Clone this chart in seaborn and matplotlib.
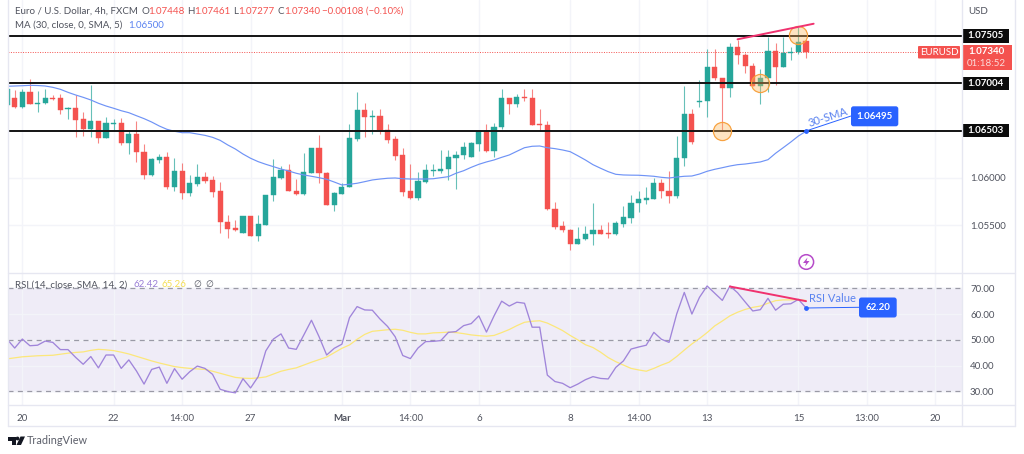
import matplotlib
matplotlib.use("Agg")
import matplotlib.pyplot as plt
from matplotlib.patches import FancyBboxPatch, Rectangle, Polygon, Circle
import numpy as np
import pandas as pd
import seaborn as sns

# ---------- data ----------
opens = [1.06774,1.06848,1.06752,1.06911,1.06784,1.06795,1.06851,1.06848,1.06728,1.06742,1.06625,1.06519,1.06607,1.06424,1.06572,1.06583,1.06371,1.06463,1.06279,1.06032,1.06191,1.06222,1.05904,1.06077,1.05844,1.05939,1.06010,1.05975,1.05859,1.05533,1.05467,1.05420,1.05594,1.05388,1.05498,1.05820,1.05999,1.06085,1.05865,1.05833,1.06053,1.06315,1.06053,1.05714,1.05830,1.05901,1.06416,1.06717,1.06650,1.06657,1.06509,1.06410,1.06240,1.05859,1.05788,1.05961,1.06077,1.06077,1.06092,1.06215,1.06240,1.06222,1.06360,1.06491,1.06286,1.06540,1.06851,1.06787,1.06858,1.06851,1.06572,1.06562,1.05671,1.05494,1.05449,1.05300,1.05350,1.05403,1.05449,1.05414,1.05403,1.05512,1.05579,1.05732,1.05770,1.05780,1.05944,1.05867,1.05809,1.06209,1.06678,1.06802,1.06816,1.07173,1.07063,1.06957,1.07392,1.07307,1.07187,1.06980,1.07060,1.07349,1.07173,1.07325,1.07332,1.07448]
highs = [1.06943,1.06933,1.06940,1.07049,1.06922,1.06943,1.06880,1.06890,1.06752,1.06880,1.06699,1.06986,1.06607,1.06646,1.06625,1.06636,1.06509,1.06604,1.06360,1.06215,1.06254,1.06275,1.06215,1.06162,1.06032,1.06148,1.06063,1.06021,1.05957,1.05608,1.05555,1.05594,1.05594,1.05611,1.05823,1.06198,1.06127,1.06148,1.05986,1.06262,1.06315,1.06456,1.06067,1.05848,1.05950,1.06572,1.06911,1.06792,1.06721,1.06728,1.06572,1.06445,1.06315,1.06148,1.06063,1.06145,1.06145,1.06297,1.06297,1.06286,1.06385,1.06385,1.06491,1.06572,1.06580,1.06943,1.06851,1.06887,1.06940,1.06940,1.06728,1.06607,1.05742,1.05544,1.05456,1.05484,1.05491,1.05738,1.05502,1.05530,1.05547,1.05703,1.05816,1.05865,1.05908,1.05997,1.05986,1.06069,1.06445,1.06970,1.06728,1.07039,1.07367,1.07364,1.07063,1.07428,1.07463,1.07322,1.07216,1.07152,1.07498,1.07434,1.07498,1.07385,1.07604,1.07461]
lows = [1.06763,1.06742,1.06747,1.06784,1.06699,1.06784,1.06827,1.06678,1.06625,1.06434,1.06445,1.06434,1.06371,1.06424,1.06502,1.06350,1.06254,1.06173,1.05989,1.06024,1.06159,1.05883,1.05862,1.05777,1.05812,1.05915,1.05950,1.05802,1.05420,1.05364,1.05438,1.05420,1.05388,1.05335,1.05498,1.05759,1.05986,1.05859,1.05820,1.05820,1.06053,1.05950,1.05714,1.05655,1.05830,1.05901,1.06395,1.06438,1.06463,1.06466,1.06374,1.06191,1.05809,1.05774,1.05767,1.05944,1.06021,1.06056,1.05983,1.05886,1.06198,1.06222,1.06286,1.06279,1.06222,1.06522,1.06681,1.06749,1.06813,1.06562,1.06495,1.05661,1.05462,1.05431,1.05237,1.05297,1.05343,1.05290,1.05403,1.05367,1.05396,1.05484,1.05526,1.05636,1.05724,1.05774,1.05791,1.05740,1.05788,1.06127,1.06360,1.06756,1.06643,1.07039,1.06501,1.06855,1.07208,1.07116,1.06970,1.06787,1.06911,1.06982,1.07173,1.07251,1.07314,1.07277]
closes = [1.06943,1.06752,1.06911,1.06784,1.06800,1.06848,1.06837,1.06721,1.06745,1.06615,1.06519,1.06604,1.06424,1.06583,1.06580,1.06371,1.06466,1.06279,1.06032,1.06201,1.06222,1.05904,1.06077,1.05844,1.05947,1.06010,1.05971,1.05852,1.05530,1.05462,1.05445,1.05594,1.05388,1.05509,1.05823,1.06010,1.06085,1.05862,1.05833,1.06060,1.06315,1.06050,1.05714,1.05841,1.05908,1.06427,1.06717,1.06646,1.06657,1.06509,1.06403,1.06233,1.05852,1.05788,1.05968,1.06085,1.06085,1.06092,1.06222,1.06247,1.06332,1.06368,1.06491,1.06286,1.06544,1.06851,1.06787,1.06858,1.06845,1.06565,1.06558,1.05668,1.05484,1.05445,1.05300,1.05356,1.05409,1.05449,1.05409,1.05403,1.05520,1.05586,1.05738,1.05774,1.05788,1.05944,1.05862,1.05809,1.06215,1.06678,1.06385,1.06816,1.07173,1.07063,1.06957,1.07392,1.07307,1.07187,1.06980,1.07060,1.07349,1.07173,1.07322,1.07335,1.07438,1.07340]
sma30 = [1.06972,1.06975,1.06978,1.06982,1.06980,1.06975,1.06961,1.06940,1.06908,1.06880,1.06855,1.06827,1.06792,1.06763,1.06739,1.06713,1.06692,1.06660,1.06629,1.06593,1.06551,1.06516,1.06495,1.06480,1.06480,1.06466,1.06452,1.06431,1.06399,1.06350,1.06307,1.06254,1.06209,1.06173,1.06145,1.06120,1.06095,1.06074,1.06050,1.06032,1.06018,1.06003,1.05986,1.05957,1.05926,1.05933,1.05944,1.05961,1.05979,1.05989,1.05997,1.06000,1.05992,1.05989,1.05989,1.05989,1.05992,1.06003,1.06014,1.06050,1.06077,1.06113,1.06145,1.06170,1.06191,1.06219,1.06244,1.06283,1.06321,1.06336,1.06339,1.06321,1.06311,1.06297,1.06279,1.06236,1.06191,1.06141,1.06103,1.06067,1.06039,1.06032,1.06030,1.06029,1.06024,1.06018,1.06007,1.06000,1.06010,1.06018,1.06021,1.06042,1.06071,1.06092,1.06109,1.06127,1.06141,1.06148,1.06159,1.06170,1.06194,1.06262,1.06321,1.06381,1.06445,1.06495]
rsi = [50.2,46.8,50.3,47.7,47.9,49.5,49.0,46.2,46.2,43.2,40.5,43.5,39.1,44.1,44.1,38.9,42.2,37.9,32.8,38.5,39.4,33.1,38.8,34.7,37.6,39.8,38.9,36.6,30.8,29.9,29.4,34.9,31.3,35.7,45.7,50.3,52.3,46.8,46.3,51.9,57.6,51.2,44.1,46.7,48.3,58.6,62.9,61.6,61.5,58.1,55.2,51.2,43.9,42.7,46.8,49.3,49.4,49.7,52.9,53.2,55.5,56.3,59.3,53.0,59.3,65.0,63.1,64.6,64.2,54.9,54.9,36.3,33.8,33.1,31.4,32.8,34.5,35.7,35.0,34.8,39.3,41.8,46.4,47.2,47.9,52.9,50.2,49.0,60.0,68.4,60.0,66.5,70.9,68.1,65.3,70.9,68.3,64.7,61.2,61.7,66.1,61.5,63.8,64.0,65.7,62.4]
rsi_ma = [42.6,43.0,43.4,43.6,43.8,43.9,44.0,44.4,44.8,45.1,45.3,45.9,46.3,46.1,45.8,45.2,44.5,43.6,42.7,41.8,41.0,40.3,39.6,39.2,38.9,38.7,38.5,37.8,37.0,36.2,35.4,35.1,35.0,35.2,35.6,36.7,37.8,38.5,39.1,40.2,41.3,42.3,43.3,45.0,46.7,48.0,50.2,52.1,53.3,53.6,53.9,54.1,53.7,52.9,52.3,52.3,52.7,52.8,53.0,52.8,52.4,51.9,51.6,51.4,51.7,52.8,54.0,55.5,56.8,57.2,57.4,56.5,55.1,53.6,51.7,50.0,48.1,47.0,45.2,43.1,41.5,40.2,38.9,38.3,37.8,38.9,40.2,41.3,43.5,46.0,48.4,50.5,52.8,55.4,57.3,59.3,60.7,61.8,62.6,63.1,64.2,65.2,65.5,65.5,65.6,65.26]
tick_pos = [2,14,23,32,44,53,62,74,83,92,104,113,122]
tick_labels = ["20","22","14:00","27","Mar","14:00","6","8","14:00","13","15","13:00","20"]
sr_levels = [1.07505,1.07004,1.06503]
price_ticks = [1.06000,1.05500]
rsi_ticks = [70,60,50,40,30]
circle_x = [104,99,94]
circle_y = [1.07519,1.07004,1.06501]
price_trend_x = [96,106]
price_trend_y = [1.07470,1.07635]
rsi_trend_x = [95,105]
rsi_trend_y = [70.7,65.0]

GREEN, RED = "#26a69a", "#f4524f"
BLUE = "#2962ff"
INK = "#50535e"
GRID = "#f3f4f9"
W, H = 1024, 454
FS = 7.0

sns.set_theme(style="white")
plt.rcParams["font.family"] = ["Lato", "DejaVu Sans"]
df = pd.DataFrame(dict(i=np.arange(len(opens)), o=opens, h=highs, l=lows, c=closes,
                       ma=sma30, rsi=rsi, rsi_ma=rsi_ma))
colors = [GREEN if c >= o else RED for o, c in zip(opens, closes)]

fig = plt.figure(figsize=(W/100, H/100), dpi=100, facecolor="white")
def axes_px(l, t, r, b):
    return fig.add_axes([l/W, 1-b/H, (r-l)/W, (b-t)/H])
ax1 = axes_px(8, 0, 962, 272.7)
ax2 = axes_px(8, 272.7, 962, 404.7)
xlim = (0.118, 125.5)
ax1.set_xlim(xlim); ax2.set_xlim(xlim)
ax1.set_ylim(1.078866-0.000106*272.7, 1.078866)
ax2.set_ylim(24.8, 76.06)
for ax in (ax1, ax2):
    ax.set_facecolor("none")
    sns.despine(ax=ax, left=True, bottom=True)
    ax.set_xticks(tick_pos)
    ax.grid(True, axis="both", color=GRID, lw=1.0)
    ax.set_axisbelow(True)
    ax.yaxis.tick_right()
    ax.tick_params(length=0, labelsize=FS, labelcolor=INK)
    ax.tick_params(axis="y", pad=5.8)
ax1.set_xticklabels([])
ax1.set_yticks(price_ticks)
ax1.set_yticklabels([f"{v:.5f}" for v in price_ticks])
ax2.set_yticks(rsi_ticks)
ax2.set_yticklabels([f"{v:.2f}" for v in rsi_ticks])
ax2.set_xticklabels(tick_labels)
ax2.tick_params(axis="x", pad=6.5)
for lab in ax2.get_xticklabels():
    if lab.get_text() == "Mar":
        lab.set_fontweight("bold")

# candles
ax1.vlines(df.i, df.l, df.h, colors=colors, lw=0.8, alpha=0.7, zorder=3)
ax1.bar(df.i, np.abs(df.c-df.o).clip(lower=0.00008), bottom=df[["o","c"]].min(axis=1),
        width=0.68, color=colors, linewidth=0.3, edgecolor=colors, zorder=4)
sns.lineplot(data=df, x="i", y="ma", ax=ax1, color="#6f93f6", lw=0.85, zorder=5, legend=False, errorbar=None)
ax1.set_xlabel(""); ax1.set_ylabel("")

# levels
ytrans = ax1.get_yaxis_transform()
for lv in sr_levels:
    ax1.axhline(lv, color="#131313", lw=1.4, zorder=6)
    ax1.add_patch(Rectangle((1.0, lv-0.00071), 47/954, 0.00142, transform=ytrans, fc="#0b0b0b", ec="none",
                            clip_on=False, zorder=8))
    ax1.text(1.0+23.5/954, lv, f"{lv:.5f}", transform=ytrans, ha="center", va="center",
             color="white", fontsize=FS, fontweight="bold", clip_on=False, zorder=9)
# last price line
ax1.plot([xlim[0], 119.7], [closes[-1], closes[-1]], color=RED, lw=0.7, ls=(0, (1, 1.5)), zorder=2)
# circles
ax1.scatter(circle_x, circle_y, s=170, facecolor=(0.98, 0.72, 0.38, 0.38), edgecolor=(0.97, 0.62, 0.22, 0.95),
            lw=0.9, zorder=7)
ax1.plot(price_trend_x, price_trend_y, color="#f0326f", lw=1.4, zorder=8)
ax1.scatter([105], [sma30[-1]], s=6, color=BLUE, zorder=9)

# RSI pane
ax2.axhspan(30, 70, color="#efecf7", zorder=0)
for v in (70, 50, 30):
    ax2.axhline(v, color="#9a9aa6", lw=0.9, ls=(0, (4, 3.5)), zorder=1.5)
sns.lineplot(data=df, x="i", y="rsi_ma", ax=ax2, color="#fce77a", lw=0.9, zorder=3, legend=False, errorbar=None)
sns.lineplot(data=df, x="i", y="rsi", ax=ax2, color="#a085da", lw=0.95, zorder=4, legend=False, errorbar=None)
ax2.set_xlabel(""); ax2.set_ylabel("")
ax2.plot(rsi_trend_x, rsi_trend_y, color="#f0326f", lw=1.4, zorder=6)
ax2.scatter([105], [rsi[-1]], s=6, color=BLUE, zorder=7)

# overlay in pixel coordinates
ov = fig.add_axes([0, 0, 1, 1], facecolor="none")
ov.set_xlim(0, W); ov.set_ylim(H, 0); ov.axis("off")
FR = "#e6e7f1"
for (x0, y0, x1, y1) in [(8,0,8,426),(8,426,1015,426),(1015,0,1015,426),(962,0,962,426),(8,272.7,1015,272.7),(8,404.7,1015,404.7)]:
    ov.plot([x0, x1], [y0, y1], color=FR, lw=1.0)

def t(x, y, s, c=INK, **k):
    k.setdefault("fontsize", FS)
    ov.text(x, y, s, color=c, ha=k.pop("ha", "left"), va=k.pop("va", "center"), **k)

t(15, 11.5, "Euro / U.S. Dollar, 4h, FXCM")
for x, lab, x2, val in [(141.5,"O",148.5,"1.07448"),(187.5,"H",194,"1.07461"),(233,"L",238.5,"1.07277"),(278,"C",284.5,"1.07340")]:
    t(x, 11.5, lab); t(x2, 11.5, val, RED)
t(322.5, 11.5, "\u22120.00108 (\u22120.10%)", RED)
t(15, 25.5, "MA (30, close, 0, SMA, 5)")
t(128, 25.5, "1.06500", "#5a82f0")
t(15, 284.7, "RSI (14, close, SMA, 14, 2)")
t(133, 284.7, "62.42", "#9a7fd6")
t(162, 284.7, "65.26", "#f5df55")
t(193, 284.7, "\u2205", family=["DejaVu Sans"], fontsize=6.5)
t(205, 284.7, "\u2205", family=["DejaVu Sans"], fontsize=6.5)
t(978, 11, "USD", ha="center")

# EURUSD tags
ov.add_patch(FancyBboxPatch((918, 46), 42, 12.5, boxstyle="round,pad=0,rounding_size=1", fc=RED, ec="none"))
ov.add_patch(Rectangle((962, 45), 50, 24.7, fc=RED, ec="none"))
t(939, 52.2, "EURUSD", "white", ha="center", fontsize=7.0)
t(986, 51.7, "1.07340", "white", ha="center", fontweight="bold")
t(986, 63, "01:18:52", "#fbdad9", ha="center")

# SMA callout
ov.plot([805, 851], [131.3, 116], color=BLUE, lw=0.7)
ov.add_patch(FancyBboxPatch((851, 106.3), 47.3, 20, boxstyle="round,pad=0,rounding_size=2.5", fc=BLUE, ec="none", zorder=5))
t(874.6, 116.3, "1.06495", "white", ha="center", fontweight="bold", zorder=6)
t(827.5, 117, "30-SMA", "#5a82f0", ha="center", rotation=18, fontsize=8, rotation_mode="anchor")

# RSI callout
ov.plot([806, 859], [308, 307.3], color=BLUE, lw=0.7)
ov.add_patch(FancyBboxPatch((859, 297.5), 37.7, 20, boxstyle="round,pad=0,rounding_size=2.5", fc=BLUE, ec="none", zorder=5))
t(877.8, 307.5, "62.20", "white", ha="center", fontweight="bold", zorder=6)
t(832, 298.3, "RSI Value", "#5a82f0", ha="center", fontsize=8)

# lightning icon
ov.add_patch(Circle((806.3, 262), 7.3, fc="white", ec="#b64bc9", lw=1.1))
ov.add_patch(Polygon([(807.5,257.5),(803,263),(806,263),(805,266.5),(809.5,261),(806.5,261)], fc="#b64bc9", ec="none"))

# TradingView logo + wordmark
ov.add_patch(Polygon([(8,436.5),(16,436.5),(16,445),(12,445),(12,440.5),(8,440.5)], fc="#131722", ec="none"))
ov.add_patch(Circle((17.5, 438.5), 1.9, fc="#131722", ec="none"))
ov.add_patch(Polygon([(20.5,436.5),(25,436.5),(21,445),(16.5,445)], fc="#131722", ec="none"))
t(27, 441, "TradingView", "#5d606b", fontsize=7.8)

fig.savefig("out.png", dpi=100)
